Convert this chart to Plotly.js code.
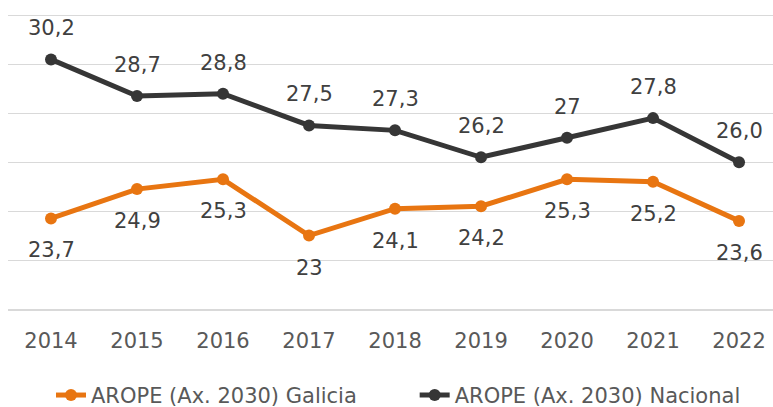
<!DOCTYPE html>
<html>
<head>
<meta charset="utf-8">
<script src="https://cdn.plot.ly/plotly-3.0.1.min.js"></script>
<style>html,body{margin:0;padding:0;background:#fff;}#chart{width:773px;height:407px;}</style>
</head>
<body>
<div id="chart"></div>
<script>
const years = ["2014","2015","2016","2017","2018","2019","2020","2021","2022"];
const galicia = [23.7, 24.9, 25.3, 23.0, 24.1, 24.2, 25.3, 25.2, 23.6];
const nacional = [30.2, 28.7, 28.8, 27.5, 27.3, 26.2, 27.0, 27.8, 26.0];
const galiciaLabels = ["23,7","24,9","25,3","23","24,1","24,2","25,3","25,2","23,6"];
const nacionalLabels = ["30,2","28,7","28,8","27,5","27,3","26,2","27","27,8","26,0"];
const seriesNames = ["AROPE (Ax. 2030) Galicia", "AROPE (Ax. 2030) Nacional"];

const orange = "#E87511";
const dark = "#363636";
const FONT = "DejaVu Sans, sans-serif";

const traces = [
  {x: years, y: galicia, name: seriesNames[0], type: "scatter", mode: "lines+markers",
   line: {color: orange, width: 5}, marker: {color: orange, size: 12}, legend: "legend"},
  {x: years, y: nacional, name: seriesNames[1], type: "scatter", mode: "lines+markers",
   line: {color: dark, width: 5}, marker: {color: dark, size: 12}, legend: "legend2"}
];

const annotations = [];
years.forEach((yr, i) => {
  annotations.push({x: i, y: nacional[i], xref: "x", yref: "y", text: nacionalLabels[i], showarrow: false,
    yshift: 31, font: {family: FONT, size: 21, color: "#404040"}});
  annotations.push({x: i, y: galicia[i], xref: "x", yref: "y", text: galiciaLabels[i], showarrow: false,
    yshift: -32, font: {family: FONT, size: 21, color: "#404040"}});
});

const layout = {
  width: 773, height: 407,
  margin: {l: 8, r: 0, t: 8, b: 98, autoexpand: false},
  paper_bgcolor: "#ffffff", plot_bgcolor: "#ffffff",
  font: {family: FONT, color: "#595959"},
  xaxis: {type: "category", range: [-0.5, 8.395], showgrid: false, zeroline: false,
    showline: true, linecolor: "#D9D9D9", linewidth: 1.5,
    ticks: "", ticklabelstandoff: 12, tickfont: {family: FONT, size: 21, color: "#595959"}},
  yaxis: {range: [20, 32.3], dtick: 2, tick0: 20, showticklabels: false, showgrid: true,
    gridcolor: "#D9D9D9", gridwidth: 1, zeroline: false, showline: false, fixedrange: true},
  showlegend: true,
  legend: {orientation: "h", x: 0.0562, xanchor: "left", y: -0.287, yanchor: "middle",
    font: {family: FONT, size: 21, color: "#595959"}, bgcolor: "rgba(0,0,0,0)"},
  legend2: {orientation: "h", x: 0.5316, xanchor: "left", y: -0.287, yanchor: "middle",
    font: {family: FONT, size: 21, color: "#595959"}, bgcolor: "rgba(0,0,0,0)"},
  annotations: annotations
};

Plotly.newPlot("chart", traces, layout, {displayModeBar: false, staticPlot: true});
</script>
</body>
</html>
